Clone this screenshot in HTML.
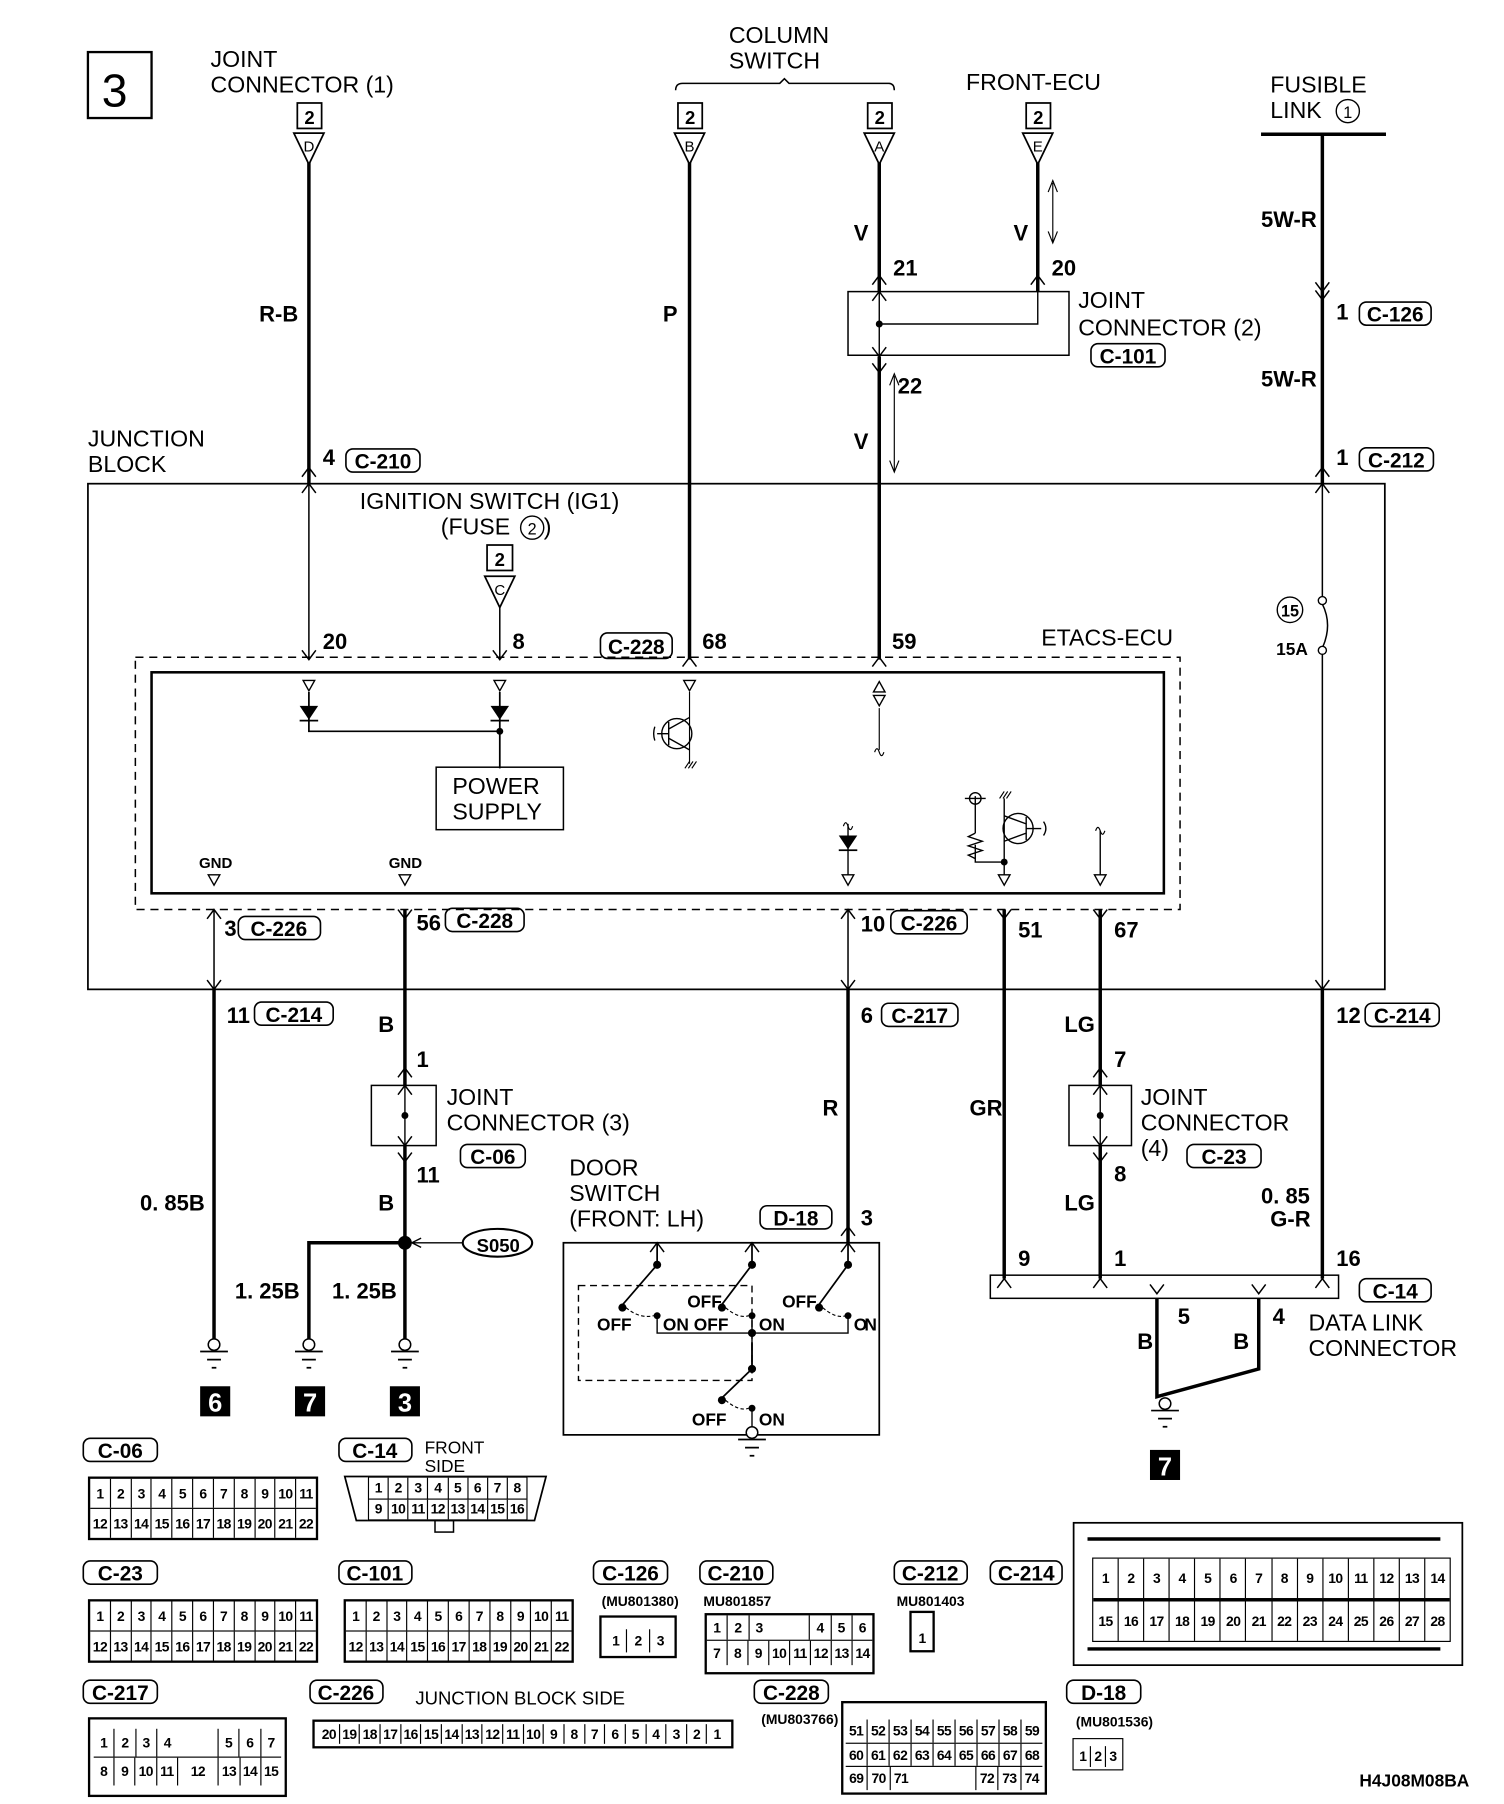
<!DOCTYPE html>
<html><head><meta charset="utf-8">
<style>
html,body{margin:0;padding:0;background:#fff;}
body{width:1504px;height:1804px;overflow:hidden;position:relative;}
#c{position:absolute;left:0;top:0;width:1300px;height:1559px;transform-origin:0 0;transform:scale(1.15692,1.15715);font-family:"Liberation Sans",sans-serif;}
svg{position:absolute;left:0;top:0;}
.g{position:absolute;border:2px solid #000;box-sizing:border-box;display:flex;flex-direction:column;background:#fff;}
.r{display:flex;flex:1;border-top:1px solid #000;}
.r:first-child{border-top:none;}
.r span{flex:1;border-left:1px solid #000;font:bold 12px "Liberation Sans",sans-serif;display:flex;align-items:center;justify-content:center;letter-spacing:-0.5px;}
.r span:first-child{border-left:none;}
.r span.e{border-left:none;}
</style></head><body>
<div id="c">
<svg width="1300" height="1559" viewBox="0 0 1300 1559" font-family="Liberation Sans, sans-serif">
<defs>
<g id="up"><path d="M-6 8 L0 0 L6 8" fill="none" stroke="#000" stroke-width="1.3"/></g>
<g id="dn"><path d="M-6 -8 L0 0 L6 -8" fill="none" stroke="#000" stroke-width="1.3"/></g>
<g id="tri"><path d="M-5 0 L5 0 L0 9 Z" fill="#fff" stroke="#000" stroke-width="1.2"/></g>
<g id="gnd"><circle cx="0" cy="0" r="5" fill="#fff" stroke="#000" stroke-width="1.3"/><path d="M-12 6 H12 M-6 13 H6 M-2 20 H2" stroke="#000" stroke-width="1.5"/></g>
</defs>
<g fill="none" stroke="#000">
<rect x="76" y="45" width="55" height="57" stroke-width="2"/>
<path d="M584 78 Q584 72 590 72 H674 L678 68 L682 72 H768 Q773 72 773 78" stroke-width="1.3"/>
<path d="M1090 116 H1198" stroke-width="3"/>
<path d="M267 140 V418 M596 140 V570 M760 140 V252 M760 308 V570 M897 140 V252 M1143 116 V418" stroke-width="3"/>
<rect x="76" y="418" width="1121" height="437" stroke-width="1.5"/>
<rect x="733" y="252" width="191" height="55" stroke-width="1.3"/>
<path d="M760 252 V308 M760 280 H897 V252" stroke-width="1.2"/>
<path d="M267 418 V570 M432 524 V570" stroke-width="1.3"/>
<path d="M1143 418 V516 M1143 564 V855" stroke-width="1.3"/>
<path d="M1143 522 Q1152 540 1143 560" stroke-width="1.3"/>
<circle cx="1143" cy="519" r="3.5" fill="#fff" stroke-width="1.2"/><circle cx="1143" cy="562" r="3.5" fill="#fff" stroke-width="1.2"/>
<path d="M910 158 V210 M906 166 L910 156 L914 166 M906 200 L910 210 L914 200" stroke-width="1"/>
<path d="M773 325 V408 M769 333 L773 323 L777 333 M769 398 L773 408 L777 398" stroke-width="1"/>
<rect x="117" y="568" width="903" height="218" stroke-width="1.3" stroke-dasharray="7 5"/>
<rect x="131" y="581" width="875" height="191" stroke-width="2.2"/>
<path d="M267 598 V632 H432 M432 598 V664" stroke-width="1.5"/>
<rect x="377" y="663" width="110" height="54" stroke-width="1.3"/>
<path d="M596 598 V660 M760 612 V648" stroke-width="1"/>
<path d="M756 650 Q758 644 760 650 Q762 656 764 650" stroke-width="1"/>
<circle cx="585" cy="634" r="13" stroke-width="1.2"/>
<path d="M578 624 V644 M568 634 H578 M578 630 L596 620 M578 638 L596 648 M566 628 Q564 634 566 640" stroke-width="1.2"/>
<path d="M592 664 L596 658 M595 664 L599 658 M598 664 L602 658" stroke-width="1"/>
<path d="M733 712 V758 M868 690 V758 M868 745 H843 V730 M843 720 V688 M951 718 V758" stroke-width="1.2"/>
<path d="M729 714 Q731 708 733 714 Q735 720 737 714 M947 718 Q949 712 951 718 Q953 724 955 718" stroke-width="1"/>
<path d="M843 720 L837 723 L849 727 L837 731 L849 735 L837 739 L843 742" stroke-width="1.2"/>
<circle cx="843" cy="690" r="5" stroke-width="1.2"/><path d="M834 690 H852" stroke-width="1.2"/>
<circle cx="880" cy="716" r="13" stroke-width="1.2"/>
<path d="M887 706 V726 M887 716 H900 M868 705 L887 712 M868 727 L887 720 M902 710 Q906 716 902 722" stroke-width="1.2"/>
<path d="M864 690 L868 684 M867 690 L871 684 M870 690 L874 684" stroke-width="1"/>
<path d="M185 786 V855 M733 786 V855" stroke-width="1.3"/>
<path d="M185 855 V1160 M350 786 V938 M350 990 V1160 M350 1074 H267 V1160 M733 855 V1074 M868 786 V1105 M951 786 V938 M951 990 V1105 M1143 855 V1105" stroke-width="3"/>
<path d="M1000 1122 V1207 L1088 1183 V1122" stroke-width="3"/>
<rect x="321" y="938" width="56" height="52" stroke-width="1.3"/>
<path d="M350 938 V990" stroke-width="1.2"/>
<rect x="924" y="938" width="54" height="52" stroke-width="1.3"/>
<path d="M951 938 V990" stroke-width="1.2"/>
<ellipse cx="430" cy="1074" rx="30" ry="12" stroke-width="1.8"/>
<path d="M400 1074 H356 M364 1070 L356 1074 L364 1078" stroke-width="1.2"/>
<rect x="487" y="1074" width="273" height="166" stroke-width="1.5"/>
<rect x="500" y="1111" width="150" height="82" stroke-width="1.2" stroke-dasharray="6 4"/>
<path d="M568 1074 V1093 L536 1130 M650 1074 V1093 L622 1130 M733 1074 V1093 L706 1130 M650 1160 V1183 L622 1210" stroke-width="1.5"/>
<path d="M568 1137 V1152 H733 V1137 M650 1137 V1183" stroke-width="1.2"/>
<path d="M541 1130 Q553 1140 565 1137 M627 1130 Q639 1140 647 1137 M711 1130 Q723 1140 731 1137 M627 1210 Q639 1220 647 1217" stroke-width="1" stroke-dasharray="3 2"/>
<path d="M650 1217 V1236" stroke-width="1.2"/>
<rect x="856" y="1102" width="301" height="20" stroke-width="1.3"/>
</g>
<g fill="#000">
<circle cx="760" cy="280" r="3"/><circle cx="432" cy="632" r="3"/><circle cx="868" cy="745" r="3"/>
<circle cx="350" cy="964" r="3"/><circle cx="951" cy="964" r="3"/><circle cx="350" cy="1074" r="6"/>
<circle cx="568" cy="1093" r="3.5"/><circle cx="650" cy="1093" r="3.5"/><circle cx="733" cy="1093" r="3.5"/>
<circle cx="538" cy="1130" r="3.5"/><circle cx="624" cy="1130" r="3.5"/><circle cx="708" cy="1130" r="3.5"/>
<circle cx="568" cy="1137" r="3"/><circle cx="650" cy="1137" r="3"/><circle cx="733" cy="1137" r="3"/>
<circle cx="650" cy="1152" r="3.5"/><circle cx="650" cy="1183" r="3.5"/><circle cx="624" cy="1210" r="3.5"/><circle cx="650" cy="1217" r="3"/>
<path d="M259 610 H275 L267 622 Z M424 610 H440 L432 622 Z M725 722 H741 L733 734 Z"/>
<rect x="259" y="622" width="16" height="1.5"/><rect x="424" y="622" width="16" height="1.5"/><rect x="725" y="734" width="16" height="1.5"/>
</g>
<use href="#tri" x="267" y="588"/><use href="#tri" x="432" y="588"/><use href="#tri" x="596" y="588"/><use href="#tri" x="760" y="601"/>
<path d="M755 598 L765 598 L760 589 Z" fill="#fff" stroke="#000" stroke-width="1.2"/>
<use href="#tri" x="185" y="756"/><use href="#tri" x="350" y="756"/><use href="#tri" x="733" y="756"/><use href="#tri" x="868" y="756"/><use href="#tri" x="951" y="756"/>
<use href="#up" x="267" y="404"/><use href="#up" x="267" y="418"/><use href="#dn" x="267" y="570"/><use href="#dn" x="432" y="570"/><use href="#up" x="596" y="568"/><use href="#up" x="760" y="568"/>
<use href="#up" x="760" y="238"/><use href="#up" x="760" y="252"/><use href="#up" x="897" y="238"/><use href="#dn" x="760" y="308"/><use href="#dn" x="760" y="322"/>
<use href="#dn" x="1143" y="252"/><use href="#dn" x="1143" y="259"/><use href="#up" x="1143" y="404"/><use href="#up" x="1143" y="418"/>
<use href="#up" x="185" y="786"/><use href="#dn" x="185" y="855"/><use href="#dn" x="350" y="794"/><use href="#up" x="733" y="786"/><use href="#dn" x="733" y="855"/><use href="#dn" x="868" y="794"/><use href="#dn" x="951" y="794"/><use href="#dn" x="1143" y="855"/>
<use href="#up" x="350" y="923"/><use href="#up" x="350" y="938"/><use href="#dn" x="350" y="990"/><use href="#dn" x="350" y="1004"/>
<use href="#up" x="951" y="923"/><use href="#up" x="951" y="938"/><use href="#dn" x="951" y="990"/><use href="#dn" x="951" y="1004"/>
<use href="#up" x="568" y="1074"/><use href="#up" x="650" y="1074"/><use href="#up" x="733" y="1074"/><use href="#up" x="733" y="1060"/>
<use href="#up" x="868" y="1105"/><use href="#up" x="951" y="1105"/><use href="#up" x="1143" y="1105"/><use href="#dn" x="1000" y="1118"/><use href="#dn" x="1088" y="1118"/>
<use href="#gnd" x="185" y="1162"/><use href="#gnd" x="267" y="1162"/><use href="#gnd" x="350" y="1162"/><use href="#gnd" x="1007" y="1213"/><use href="#gnd" x="650" y="1238"/>
<g stroke="#000" stroke-width="1.5" fill="#fff">
<rect x="257" y="89" width="21" height="22"/><rect x="586" y="89" width="21" height="22"/><rect x="750" y="89" width="21" height="22"/><rect x="887" y="89" width="21" height="22"/><rect x="421" y="471" width="22" height="22"/>
<path d="M254 115 H280 L267 142 Z M583 115 H609 L596 142 Z M747 115 H773 L760 142 Z M884 115 H910 L897 142 Z M419 498 H445 L432 525 Z"/>
</g>
<g font-weight="bold" font-size="16" text-anchor="middle">
<text x="267.5" y="107">2</text><text x="596.5" y="107">2</text><text x="760.5" y="107">2</text><text x="897.5" y="107">2</text><text x="432" y="489">2</text>
</g>
<g font-size="13" text-anchor="middle">
<text x="267" y="131">D</text><text x="596" y="131">B</text><text x="760" y="131">A</text><text x="897" y="131">E</text><text x="432" y="514">C</text>
</g>
<g font-size="20">
<text x="88" y="92" font-size="40">3</text>
<text x="182" y="58">JOINT</text><text x="182" y="80">CONNECTOR (1)</text>
<text x="630" y="37">COLUMN</text><text x="630" y="59">SWITCH</text>
<text x="835" y="78">FRONT-ECU</text>
<text x="1098" y="80">FUSIBLE</text><text x="1098" y="102">LINK</text>
<text x="932" y="266">JOINT</text><text x="932" y="290">CONNECTOR (2)</text>
<text x="76" y="386">JUNCTION</text><text x="76" y="408">BLOCK</text>
<text x="311" y="440">IGNITION SWITCH (IG1)</text><text x="381" y="462">(FUSE</text><text x="470" y="462">)</text>
<text x="900" y="558">ETACS-ECU</text>
<text x="391" y="686">POWER</text><text x="391" y="708">SUPPLY</text>
<text x="386" y="955">JOINT</text><text x="386" y="977">CONNECTOR (3)</text>
<text x="986" y="955">JOINT</text><text x="986" y="977">CONNECTOR</text><text x="986" y="999">(4)</text>
<text x="492" y="1016">DOOR</text><text x="492" y="1038">SWITCH</text><text x="492" y="1060">(FRONT: LH)</text>
<text x="1131" y="1150">DATA LINK</text><text x="1131" y="1172">CONNECTOR</text>
<text x="367" y="1256" font-size="15">FRONT</text><text x="367" y="1272" font-size="15">SIDE</text>
<text x="359" y="1473" font-size="16">JUNCTION BLOCK SIDE</text>
</g>
<circle cx="1165" cy="96" r="10" fill="none" stroke="#000" stroke-width="1.2"/><text x="1165" y="102" font-size="14" text-anchor="middle">1</text>
<circle cx="460" cy="456" r="10" fill="none" stroke="#000" stroke-width="1.2"/><text x="460" y="462" font-size="14" text-anchor="middle">2</text>
<circle cx="1115" cy="527" r="11" fill="none" stroke="#000" stroke-width="1.2"/><text x="1115" y="533" font-size="14" font-weight="bold" text-anchor="middle">15</text>
<g font-size="19" font-weight="bold">
<text x="224" y="278">R-B</text><text x="573" y="278">P</text><text x="738" y="208">V</text><text x="876" y="208">V</text><text x="738" y="388">V</text>
<text x="1090" y="196">5W-R</text><text x="1090" y="334">5W-R</text>
<text x="772" y="238">21</text><text x="909" y="238">20</text><text x="776" y="340">22</text>
<text x="279" y="402">4</text><text x="1155" y="276">1</text><text x="1155" y="402">1</text>
<text x="279" y="561">20</text><text x="443" y="561">8</text><text x="607" y="561">68</text><text x="771" y="561">59</text>
<text x="1103" y="566" font-size="15">15A</text>
<text x="172" y="750" font-size="13">GND</text><text x="336" y="750" font-size="13">GND</text>
<text x="194" y="809">3</text><text x="360" y="804">56</text><text x="744" y="805">10</text><text x="880" y="810">51</text><text x="963" y="810">67</text>
<text x="196" y="884">11</text><text x="744" y="884">6</text><text x="1155" y="884">12</text>
<text x="327" y="892">B</text><text x="360" y="922">1</text><text x="360" y="1022">11</text><text x="327" y="1046">B</text>
<text x="121" y="1046">0. 85B</text><text x="203" y="1122">1. 25B</text><text x="287" y="1122">1. 25B</text>
<text x="711" y="964">R</text><text x="744" y="1059">3</text>
<text x="838" y="964">GR</text><text x="920" y="892">LG</text><text x="963" y="922">7</text><text x="963" y="1021">8</text><text x="920" y="1046">LG</text>
<text x="1090" y="1040">0. 85</text><text x="1098" y="1060">G-R</text>
<text x="880" y="1094">9</text><text x="963" y="1094">1</text><text x="1155" y="1094">16</text>
<text x="1018" y="1144">5</text><text x="1100" y="1144">4</text><text x="983" y="1166">B</text><text x="1066" y="1166">B</text>
<text x="412" y="1082" font-size="16">S050</text>
<g font-size="15"><text x="516" y="1150">OFF</text><text x="573" y="1150">ON OFF</text><text x="656" y="1150">ON</text><text x="594" y="1130">OFF</text><text x="676" y="1130">OFF</text><text x="738" y="1150" textLength="20">ON</text><text x="598" y="1232">OFF</text><text x="656" y="1232">ON</text></g>
<text x="1175" y="1544" font-size="15">H4J08M08BA</text>
<text x="658" y="1490" font-size="12">(MU803766)</text><text x="930" y="1492" font-size="12">(MU801536)</text>
<text x="520" y="1388" font-size="12">(MU801380)</text><text x="608" y="1388" font-size="12">MU801857</text><text x="775" y="1388" font-size="12">MU801403</text>
</g>
<g fill="none" stroke="#000" stroke-width="1.4">
<rect x="299" y="388" width="64" height="20" rx="6"/><rect x="1175" y="261" width="62" height="20" rx="6"/><rect x="943" y="297" width="64" height="20" rx="6"/><rect x="1175" y="387" width="64" height="20" rx="6"/>
<rect x="519" y="547" width="62" height="22" rx="6"/>
<rect x="206" y="792" width="71" height="20" rx="6"/><rect x="385" y="785" width="68" height="20" rx="6"/><rect x="770" y="787" width="66" height="20" rx="6"/>
<rect x="220" y="866" width="68" height="20" rx="6"/><rect x="762" y="867" width="66" height="20" rx="6"/><rect x="1180" y="867" width="64" height="20" rx="6"/>
<rect x="398" y="989" width="56" height="20" rx="6"/><rect x="1026" y="989" width="64" height="20" rx="6"/><rect x="657" y="1042" width="62" height="20" rx="6"/><rect x="1175" y="1105" width="62" height="20" rx="6"/>
<rect x="72" y="1243" width="64" height="20" rx="6"/><rect x="293" y="1243" width="63" height="20" rx="6"/>
<rect x="72" y="1349" width="64" height="20" rx="6"/><rect x="293" y="1349" width="63" height="20" rx="6"/><rect x="513" y="1349" width="64" height="20" rx="6"/><rect x="605" y="1349" width="63" height="20" rx="6"/><rect x="773" y="1349" width="63" height="20" rx="6"/><rect x="856" y="1349" width="62" height="20" rx="6"/>
<rect x="72" y="1452" width="64" height="20" rx="6"/><rect x="268" y="1452" width="63" height="20" rx="6"/><rect x="652" y="1452" width="64" height="20" rx="6"/><rect x="922" y="1452" width="64" height="20" rx="6"/>
</g>
<g font-size="18" font-weight="bold" text-anchor="middle">
<text x="331" y="405">C-210</text><text x="1206" y="278">C-126</text><text x="975" y="314">C-101</text><text x="1207" y="404">C-212</text>
<text x="550" y="565">C-228</text>
<text x="241" y="809">C-226</text><text x="419" y="802">C-228</text><text x="803" y="804">C-226</text>
<text x="254" y="883">C-214</text><text x="795" y="884">C-217</text><text x="1212" y="884">C-214</text>
<text x="426" y="1006">C-06</text><text x="1058" y="1006">C-23</text><text x="688" y="1059">D-18</text><text x="1206" y="1122">C-14</text>
<text x="104" y="1260">C-06</text><text x="324" y="1260">C-14</text>
<text x="104" y="1366">C-23</text><text x="324" y="1366">C-101</text><text x="545" y="1366">C-126</text><text x="636" y="1366">C-210</text><text x="804" y="1366">C-212</text><text x="887" y="1366">C-214</text>
<text x="104" y="1469">C-217</text><text x="299" y="1469">C-226</text><text x="684" y="1469">C-228</text><text x="954" y="1469">D-18</text>
</g>
<g fill="#000"><rect x="173" y="1198" width="26" height="26"/><rect x="255" y="1198" width="26" height="26"/><rect x="337" y="1198" width="26" height="26"/><rect x="994" y="1253" width="26" height="26"/></g>
<g fill="#fff" font-size="22" font-weight="bold" text-anchor="middle">
<text x="186" y="1220">6</text><text x="268" y="1220">7</text><text x="350" y="1220">3</text><text x="1007" y="1275">7</text>
</g>
<path d="M298 1276 H472 L462 1314 H308 Z" fill="none" stroke="#000" stroke-width="1.5"/>
<rect x="376" y="1314" width="16" height="10" fill="none" stroke="#000" stroke-width="1.3"/>
<rect x="928" y="1316" width="336" height="123" fill="none" stroke="#000" stroke-width="1.5"/>
<path d="M940 1330 H1245 M940 1425 H1245" stroke="#000" stroke-width="3"/>
</svg>

<div class="g" style="left:76px;top:1276px;width:199px;height:55px"><div class="r"><span>1</span><span>2</span><span>3</span><span>4</span><span>5</span><span>6</span><span>7</span><span>8</span><span>9</span><span>10</span><span>11</span></div><div class="r"><span>12</span><span>13</span><span>14</span><span>15</span><span>16</span><span>17</span><span>18</span><span>19</span><span>20</span><span>21</span><span>22</span></div></div>
<div class="g" style="left:318px;top:1276px;width:138px;height:38px;border-width:1px"><div class="r"><span>1</span><span>2</span><span>3</span><span>4</span><span>5</span><span>6</span><span>7</span><span>8</span></div><div class="r"><span>9</span><span>10</span><span>11</span><span>12</span><span>13</span><span>14</span><span>15</span><span>16</span></div></div>
<div class="g" style="left:76px;top:1382px;width:199px;height:55px"><div class="r"><span>1</span><span>2</span><span>3</span><span>4</span><span>5</span><span>6</span><span>7</span><span>8</span><span>9</span><span>10</span><span>11</span></div><div class="r"><span>12</span><span>13</span><span>14</span><span>15</span><span>16</span><span>17</span><span>18</span><span>19</span><span>20</span><span>21</span><span>22</span></div></div>
<div class="g" style="left:297px;top:1382px;width:199px;height:55px"><div class="r"><span>1</span><span>2</span><span>3</span><span>4</span><span>5</span><span>6</span><span>7</span><span>8</span><span>9</span><span>10</span><span>11</span></div><div class="r"><span>12</span><span>13</span><span>14</span><span>15</span><span>16</span><span>17</span><span>18</span><span>19</span><span>20</span><span>21</span><span>22</span></div></div>
<div class="g" style="left:518px;top:1396px;width:67px;height:37px;padding:10px 3px 3px"><div class="r"><span>1</span><span>2</span><span>3</span></div></div>
<div class="g" style="left:609px;top:1394px;width:147px;height:53px;padding-bottom:6px"><div class="r"><span>1</span><span>2</span><span>3</span><span class="e"></span><span class="e"></span><span>4</span><span>5</span><span>6</span></div><div class="r"><span>7</span><span>8</span><span>9</span><span>10</span><span>11</span><span>12</span><span>13</span><span>14</span></div></div>
<div class="g" style="left:786px;top:1392px;width:22px;height:36px;padding:14px 3px 2px"><div class="r"><span>1</span></div></div>
<div class="g" style="left:944px;top:1346px;width:310px;height:73px;border-width:1px"><div class="r"><span>1</span><span>2</span><span>3</span><span>4</span><span>5</span><span>6</span><span>7</span><span>8</span><span>9</span><span>10</span><span>11</span><span>12</span><span>13</span><span>14</span></div><div class="r" style="border-top-width:3px"><span>15</span><span>16</span><span>17</span><span>18</span><span>19</span><span>20</span><span>21</span><span>22</span><span>23</span><span>24</span><span>25</span><span>26</span><span>27</span><span>28</span></div></div>
<div class="g" style="left:76px;top:1484px;width:172px;height:69px;padding:8px 3px 8px"><div class="r"><span>1</span><span>2</span><span>3</span><span>4</span><span class="e"></span><span class="e"></span><span>5</span><span>6</span><span>7</span></div><div class="r"><span>8</span><span>9</span><span>10</span><span>11</span><span style="flex:2">12</span><span>13</span><span>14</span><span>15</span></div></div>
<div class="g" style="left:270px;top:1486px;width:364px;height:25px;padding:2px 4px"><div class="r"><span>20</span><span>19</span><span>18</span><span>17</span><span>16</span><span>15</span><span>14</span><span>13</span><span>12</span><span>11</span><span>10</span><span>9</span><span>8</span><span>7</span><span>6</span><span>5</span><span>4</span><span>3</span><span>2</span><span>1</span></div></div>
<div class="g" style="left:727px;top:1470px;width:178px;height:81px;padding:14px 2px 2px"><div class="r"><span>51</span><span>52</span><span>53</span><span>54</span><span>55</span><span>56</span><span>57</span><span>58</span><span>59</span></div><div class="r"><span>60</span><span>61</span><span>62</span><span>63</span><span>64</span><span>65</span><span>66</span><span>67</span><span>68</span></div><div class="r"><span>69</span><span>70</span><span>71</span><span class="e"></span><span class="e"></span><span class="e"></span><span>72</span><span>73</span><span>74</span></div></div>
<div class="g" style="left:927px;top:1502px;width:44px;height:28px;padding:6px 2px 2px;border-width:1px"><div class="r"><span>1</span><span>2</span><span>3</span></div></div>
</div>
</body></html>
